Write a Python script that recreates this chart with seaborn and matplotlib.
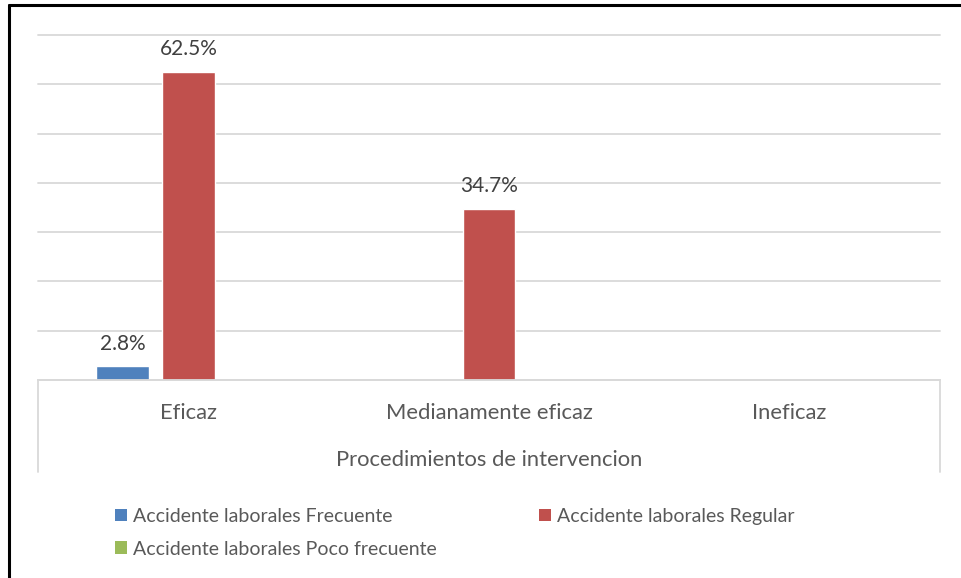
import numpy as np
import pandas as pd
import matplotlib
matplotlib.use('Agg')
import matplotlib.pyplot as plt
import seaborn as sns
from matplotlib.patches import Patch
from matplotlib.lines import Line2D

categories = ['Eficaz', 'Medianamente eficaz', 'Ineficaz']
series = ['Accidente laborales Frecuente', 'Accidente laborales Regular',
          'Accidente laborales Poco frecuente']
frecuente = [2.8, 0, 0]
regular = [62.5, 34.7, 0]
poco_frecuente = [0, 0, 0]
colors = ['#4F81BD', '#C0504D', '#9BBB59']
x_title = 'Procedimientos de intervencion'
y_ticks = [0, 10, 20, 30, 40, 50, 60, 70]

df = pd.DataFrame({
    'cat': categories * 3,
    'serie': [s for s in series for _ in categories],
    'val': frecuente + regular + poco_frecuente,
})

sns.set_theme(style='white')
plt.rcParams['font.family'] = ['Lato', 'DejaVu Sans']

W, H = 961, 578
fig = plt.figure(figsize=(W / 100, H / 100), dpi=100)
ax = fig.add_axes([38 / W, 1 - 380 / H, 902 / W, 345 / H])

sns.barplot(data=df, x='cat', y='val', hue='serie', order=categories,
            hue_order=series, palette=colors, saturation=1,
            width=0.658, gap=0.2, errorbar=None, legend=False, ax=ax)

ax.set_xlim(-0.5, 2.5)
ax.set_ylim(0, 70)
ax.set_yticks(y_ticks)
ax.set_yticklabels([])
ax.set_ylabel('')
ax.yaxis.grid(True, color='#D9D9D9', lw=1.3)
for gl in ax.get_ygridlines():
    gl.set_clip_on(False)
ax.set_axisbelow(True)
for s in ['left', 'right', 'top']:
    ax.spines[s].set_visible(False)
ax.spines['bottom'].set_color('#D9D9D9')
ax.spines['bottom'].set_linewidth(1.3)
ax.tick_params(axis='both', length=0)
ax.tick_params(axis='x', pad=16.5, labelsize=15.8, labelcolor='#595959')
ax.set_xlabel(x_title, fontsize=15.8, color='#595959', labelpad=19.5)

# category axis box sides
for xx in [0, 1]:
    ax.plot([xx, xx], [0, -92 / 345], transform=ax.transAxes, clip_on=False,
            color='#D9D9D9', lw=1.3)

# data labels
for cont in ax.containers:
    labels = [f'{b.get_height():.1f}%' if b.get_height() > 0 else '' for b in cont]
    ax.bar_label(cont, labels=labels, padding=9, fontsize=15, color='#404040')

# legend (two blocks)
handles = {s: Patch(facecolor=c, edgecolor='none') for s, c in zip(series, colors)}
kw = dict(frameon=False, loc='upper left', borderaxespad=0, borderpad=0,
          handlelength=0.62, handleheight=0.62, handletextpad=0.3,
          labelspacing=0.8, prop={'size': 14})
leg1 = fig.legend([handles[series[0]], handles[series[2]]], [series[0], series[2]],
                  bbox_to_anchor=(115 / W, 1 - 508 / H), **kw)
for t in leg1.get_texts():
    t.set_color('#595959')
leg2 = fig.legend([handles[series[1]]], [series[1]],
                  bbox_to_anchor=(539 / W, 1 - 508 / H), **kw)
for t in leg2.get_texts():
    t.set_color('#595959')

# outer border (left and top)
fig.add_artist(Line2D([9 / W, 9 / W], [0, 1 - 5 / H], color='black', lw=2.2,
                      transform=fig.transFigure))
fig.add_artist(Line2D([9 / W, 1], [1 - 5 / H, 1 - 5 / H], color='black', lw=2.2,
                      transform=fig.transFigure))

fig.savefig('out.png', dpi=100)
